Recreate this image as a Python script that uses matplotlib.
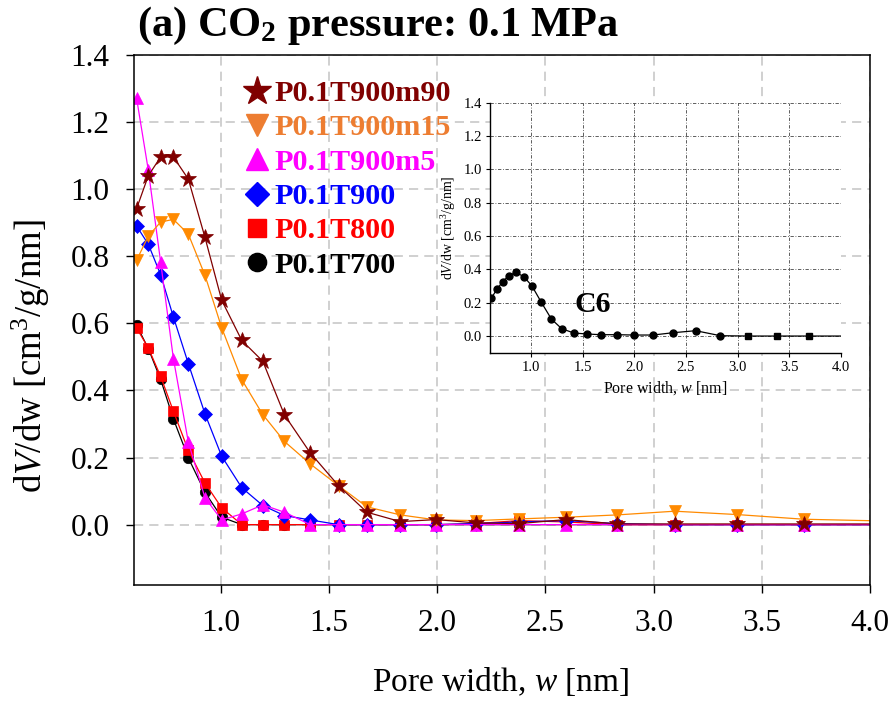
import matplotlib
matplotlib.use("Agg")
import matplotlib.pyplot as plt
from matplotlib.lines import Line2D
from matplotlib.ticker import MultipleLocator, FormatStrFormatter

plt.rcParams['font.family'] = ['Liberation Serif', 'DejaVu Serif']
plt.rcParams['mathtext.fontset'] = 'custom'
plt.rcParams['mathtext.rm'] = 'Liberation Serif'
plt.rcParams['mathtext.it'] = 'Liberation Serif:italic'
plt.rcParams['mathtext.bf'] = 'Liberation Serif:bold'

# Pore-size distribution, pore width w [nm]
pore_width = [0.612, 0.666, 0.723, 0.782, 0.851, 0.928, 1.005, 1.098, 1.195,
              1.295, 1.414, 1.545, 1.676, 1.830, 1.996, 2.180, 2.377, 2.594,
              2.833, 3.098, 3.386, 3.696, 4.050]

# dV/dw [cm3/g/nm] for each sample
p700 = [0.594, 0.525, 0.433, 0.315, 0.199, 0.096, 0.022, 0.0, 0.0, 0.0, 0.0,
        0.0, 0.0, 0.0, 0.0, 0.0, 0.0, 0.0, 0.0, 0.0, 0.0, 0.0, 0.0]
p800 = [0.586, 0.527, 0.442, 0.338, 0.221, 0.124, 0.050, 0.0, 0.0, 0.0, 0.0,
        0.0, 0.0, 0.0, 0.0, 0.003, 0.012, 0.008, 0.0, 0.0, 0.0, 0.0, 0.0]
p900 = [0.890, 0.836, 0.745, 0.619, 0.480, 0.330, 0.204, 0.110, 0.057, 0.027,
        0.014, 0.0, 0.0, 0.0, 0.0, 0.003, 0.008, 0.012, 0.003, 0.0, 0.0, 0.0, 0.0]
p900m5 = [1.271, 1.057, 0.783, 0.495, 0.246, 0.080, 0.014, 0.032, 0.059, 0.037,
          0.0, 0.0, 0.0, 0.0, 0.0, 0.0, 0.0, 0.0, 0.0, 0.0, 0.0, 0.0, 0.0]
p900m15 = [0.788, 0.860, 0.902, 0.910, 0.866, 0.743, 0.587, 0.432, 0.328, 0.248,
           0.181, 0.116, 0.053, 0.029, 0.014, 0.012, 0.017, 0.022, 0.029, 0.040,
           0.030, 0.016, 0.011]
p900m90 = [0.942, 1.040, 1.096, 1.096, 1.030, 0.856, 0.669, 0.549, 0.487, 0.327,
           0.214, 0.116, 0.037, 0.009, 0.015, 0.005, 0.003, 0.015, 0.002, 0.002,
           0.002, 0.002, 0.002]

# Reference carbon C6
c6 = [0.226, 0.280, 0.326, 0.362, 0.382, 0.356, 0.302, 0.202, 0.102, 0.044,
      0.018, 0.012, 0.008, 0.008, 0.006, 0.006, 0.020, 0.032, 0.002, 0.0, 0.0,
      0.0, 0.0]

labels = ['P0.1T900m90', 'P0.1T900m15', 'P0.1T900m5', 'P0.1T900', 'P0.1T800', 'P0.1T700']

# drawing order: bottom layer first
series = [
    (p700,    'o', '#000000', '#000000', 7.5),
    (p800,    's', '#FF0000', '#FF0000', 7.5),
    (p900,    'D', '#0000FF', '#0000FF', 7.0),
    (p900m5,  '^', '#FF00FF', '#FF00FF', 9.0),
    (p900m15, 'v', '#FF8A00', '#ED7D31', 9.0),
    (p900m90, '*', '#800000', '#800000', 12.0),
]

fig = plt.figure(figsize=(8.94, 7.04), dpi=100)
W, H = 894.0, 704.0

ax = fig.add_axes([134 / W, 1 - 585 / H, (870 - 134) / W, (585 - 55) / H])
for vals, mk, col, _, ms in series:
    ax.plot(pore_width, vals, color=col, lw=0.9, marker=mk, ms=ms,
            markeredgecolor=col, markerfacecolor=col, markeredgewidth=0.5)

ax.set_xlim(0.6, 4.0)
ax.set_ylim(-0.18, 1.4)
ax.xaxis.set_major_locator(MultipleLocator(0.5))
ax.yaxis.set_major_locator(MultipleLocator(0.2))
ax.xaxis.set_major_formatter(FormatStrFormatter('%.1f'))
ax.yaxis.set_major_formatter(FormatStrFormatter('%.1f'))
ax.tick_params(direction='out', length=5.5, width=1.0, labelsize=22.5, pad=12)
for sp in ax.spines.values():
    sp.set_linewidth(1.1)
ax.grid(True, color='#C4C4C4', linestyle=(0, (6, 4)), linewidth=1.1)
ax.set_axisbelow(True)

ax.set_xlabel(r'Pore width, $w$ [nm]', fontsize=24)
ax.xaxis.set_label_coords(0.4986, -0.151)
ax.set_ylabel(r'd$V$/dw [cm$^3$/g/nm]', fontsize=26.5)
ax.yaxis.set_label_coords(-0.112, 0.431)

fig.text(137 / W, 1 - 26 / H, r'(a) CO$_\mathbf{2}$ pressure: 0.1 MPa',
         fontsize=30.5, fontweight='bold', ha='left', va='center')

# legend, top row first
handles = []
for vals, mk, col, lcol, ms in reversed(series):
    handles.append(Line2D([], [], ls='none', marker=mk, color=lcol,
                          markeredgecolor=lcol, ms=ms * 1.75))
leg = ax.legend(handles, labels, loc='upper left',
                bbox_to_anchor=(244 / W, 1 - 80 / H), bbox_transform=fig.transFigure,
                frameon=False, borderpad=0, borderaxespad=0,
                handlelength=0.85, handletextpad=0.15, labelspacing=0.24,
                prop={'family': 'Liberation Serif', 'weight': 'bold', 'size': 21.7})
for txt, (_, _, _, lcol, _) in zip(leg.get_texts(), reversed(series)):
    txt.set_color(lcol)

# inset: C6
ins = fig.add_axes([490 / W, 1 - 352.7 / H, (840.7 - 490) / W, (352.7 - 102.7) / H])
ins.set_facecolor('white')
ins.plot(pore_width, c6, color='black', lw=0.9)
ins.plot(pore_width[:19], c6[:19], ls='none', marker='o', ms=5, color='black')
ins.plot(pore_width[19:22], c6[19:22], ls='none', marker='s', ms=4.5, color='black')
ins.set_xlim(0.6, 4.0)
ins.set_ylim(-0.1, 1.4)
ins.xaxis.set_major_locator(MultipleLocator(0.5))
ins.yaxis.set_major_locator(MultipleLocator(0.2))
ins.xaxis.set_major_formatter(FormatStrFormatter('%.1f'))
ins.yaxis.set_major_formatter(FormatStrFormatter('%.1f'))
ins.tick_params(direction='out', length=3, width=0.8, labelsize=10.5, pad=3)
ins.spines['top'].set_visible(False)
ins.spines['right'].set_visible(False)
ins.spines['left'].set_linewidth(1.0)
ins.spines['bottom'].set_linewidth(1.0)
ins.grid(True, color='#444444', linestyle=(0, (4, 2, 1, 2)), linewidth=0.6)
ins.set_axisbelow(True)
ins.set_xlabel(r'Pore width, $w$ [nm]', fontsize=11.5, labelpad=4)
ins.set_ylabel(r'd$V$/dw [cm$^3$/g/nm]', fontsize=10, labelpad=4)
ins.text(1.6, 0.19, 'C6', fontsize=21.5, fontweight='bold', ha='center', va='center')

fig.savefig('out.png', dpi=100)
